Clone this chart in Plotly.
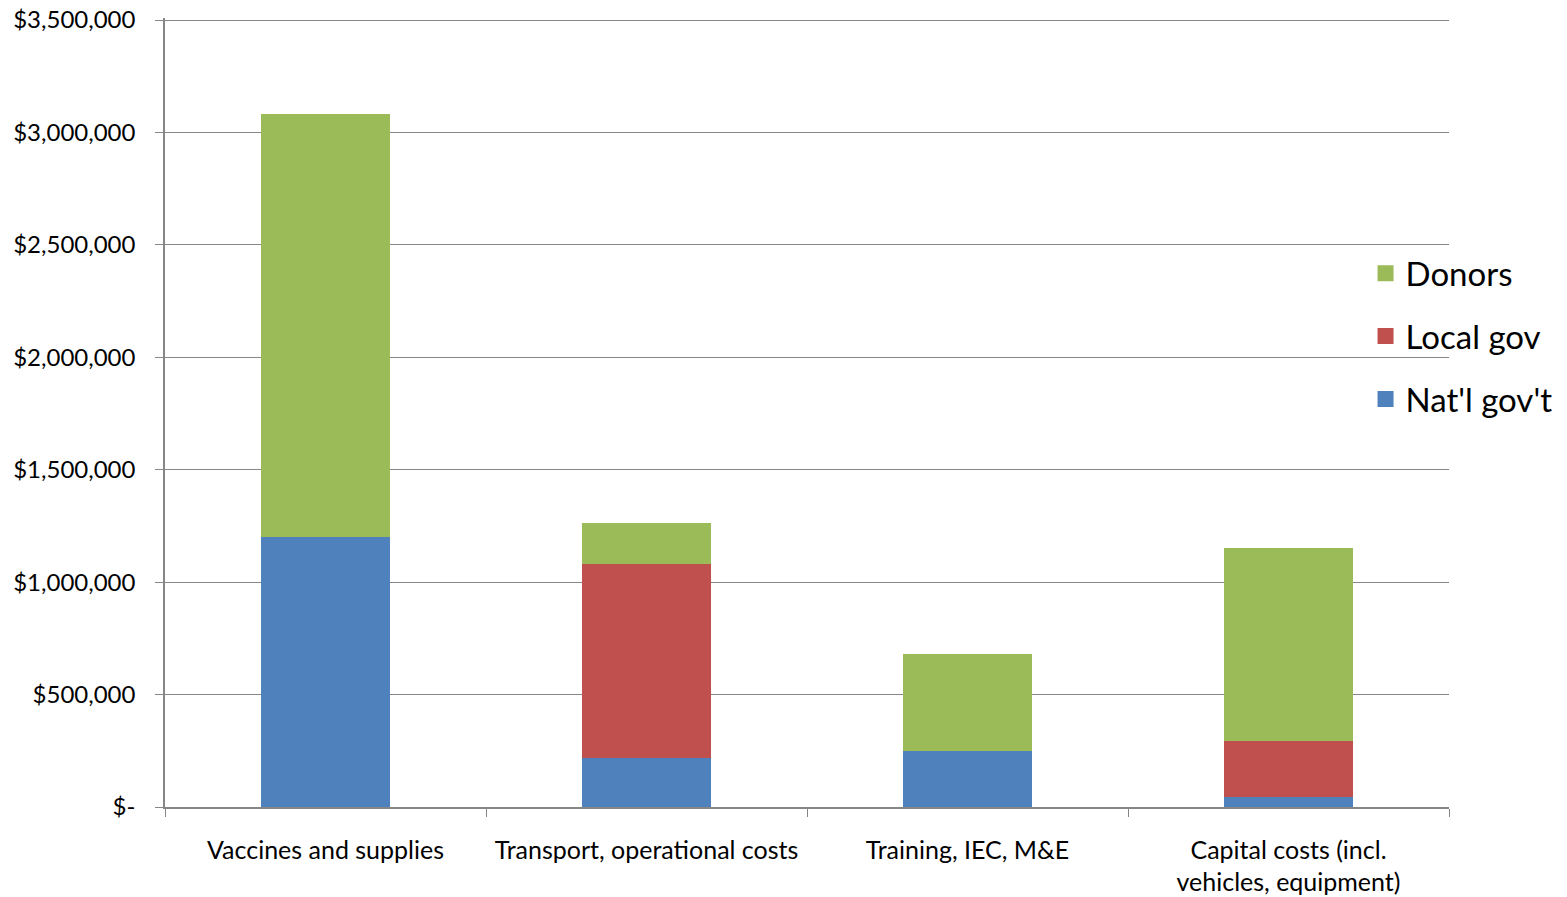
import plotly.graph_objects as go

categories = ["Vaccines and supplies", "Transport, operational costs",
              "Training, IEC, M&E", "Capital costs (incl.<br>vehicles, equipment)"]
natl_govt = [1200000, 220000, 250000, 43000]
local_gov = [0, 860000, 0, 249000]
donors = [1880000, 185000, 430000, 858000]

y_tickvals = [0, 500000, 1000000, 1500000, 2000000, 2500000, 3000000, 3500000]
y_ticktext = ["$-", "$500,000", "$1,000,000", "$1,500,000", "$2,000,000",
              "$2,500,000", "$3,000,000", "$3,500,000"]

series = [
    ("Nat'l gov't", natl_govt, "#4F81BD"),
    ("Local gov", local_gov, "#C0504D"),
    ("Donors", donors, "#9BBB59"),
]

FONT = "Lato"
fig = go.Figure()
for name, vals, col in series:
    fig.add_trace(go.Bar(x=categories, y=vals, name=name, marker_color=col,
                         marker_line_width=0, showlegend=False))
for name, vals, col in reversed(series):
    fig.add_trace(go.Scatter(x=[None], y=[None], mode="markers", name=name,
                             legendgroup=name,
                             marker=dict(symbol="square", size=20, color=col)))

fig.update_layout(
    width=1567, height=897,
    barmode="stack", bargap=0.6,
    plot_bgcolor="white", paper_bgcolor="white",
    margin=dict(l=165, r=118, t=18, b=90, autoexpand=False),
    font=dict(family=FONT, size=24, color="black"),
    legend=dict(x=0.935, y=0.712, xanchor="left", yanchor="top",
                font=dict(size=33, family=FONT), traceorder="grouped",
                tracegroupgap=17, itemwidth=30, bgcolor="rgba(0,0,0,0)"),
    xaxis=dict(showline=True, linecolor="#868686", linewidth=1.5,
               ticks="outside", tickson="boundaries", ticklen=8,
               tickcolor="#868686", ticklabelstandoff=20, showgrid=False,
               tickfont=dict(size=25)),
    yaxis=dict(range=[0, 3509000], tickvals=y_tickvals, ticktext=y_ticktext,
               showline=True, linecolor="#868686", linewidth=1.5,
               ticks="outside", ticklen=8, tickcolor="#868686",
               showgrid=True, gridcolor="#868686", gridwidth=1.3,
               zeroline=False, ticklabelstandoff=15,
               ticklabeloverflow="allow",
               tickfont=dict(size=24)),
)

fig.write_html("out.html",
               config={"displayModeBar": False},
               post_script="document.body.style.margin='0';")
